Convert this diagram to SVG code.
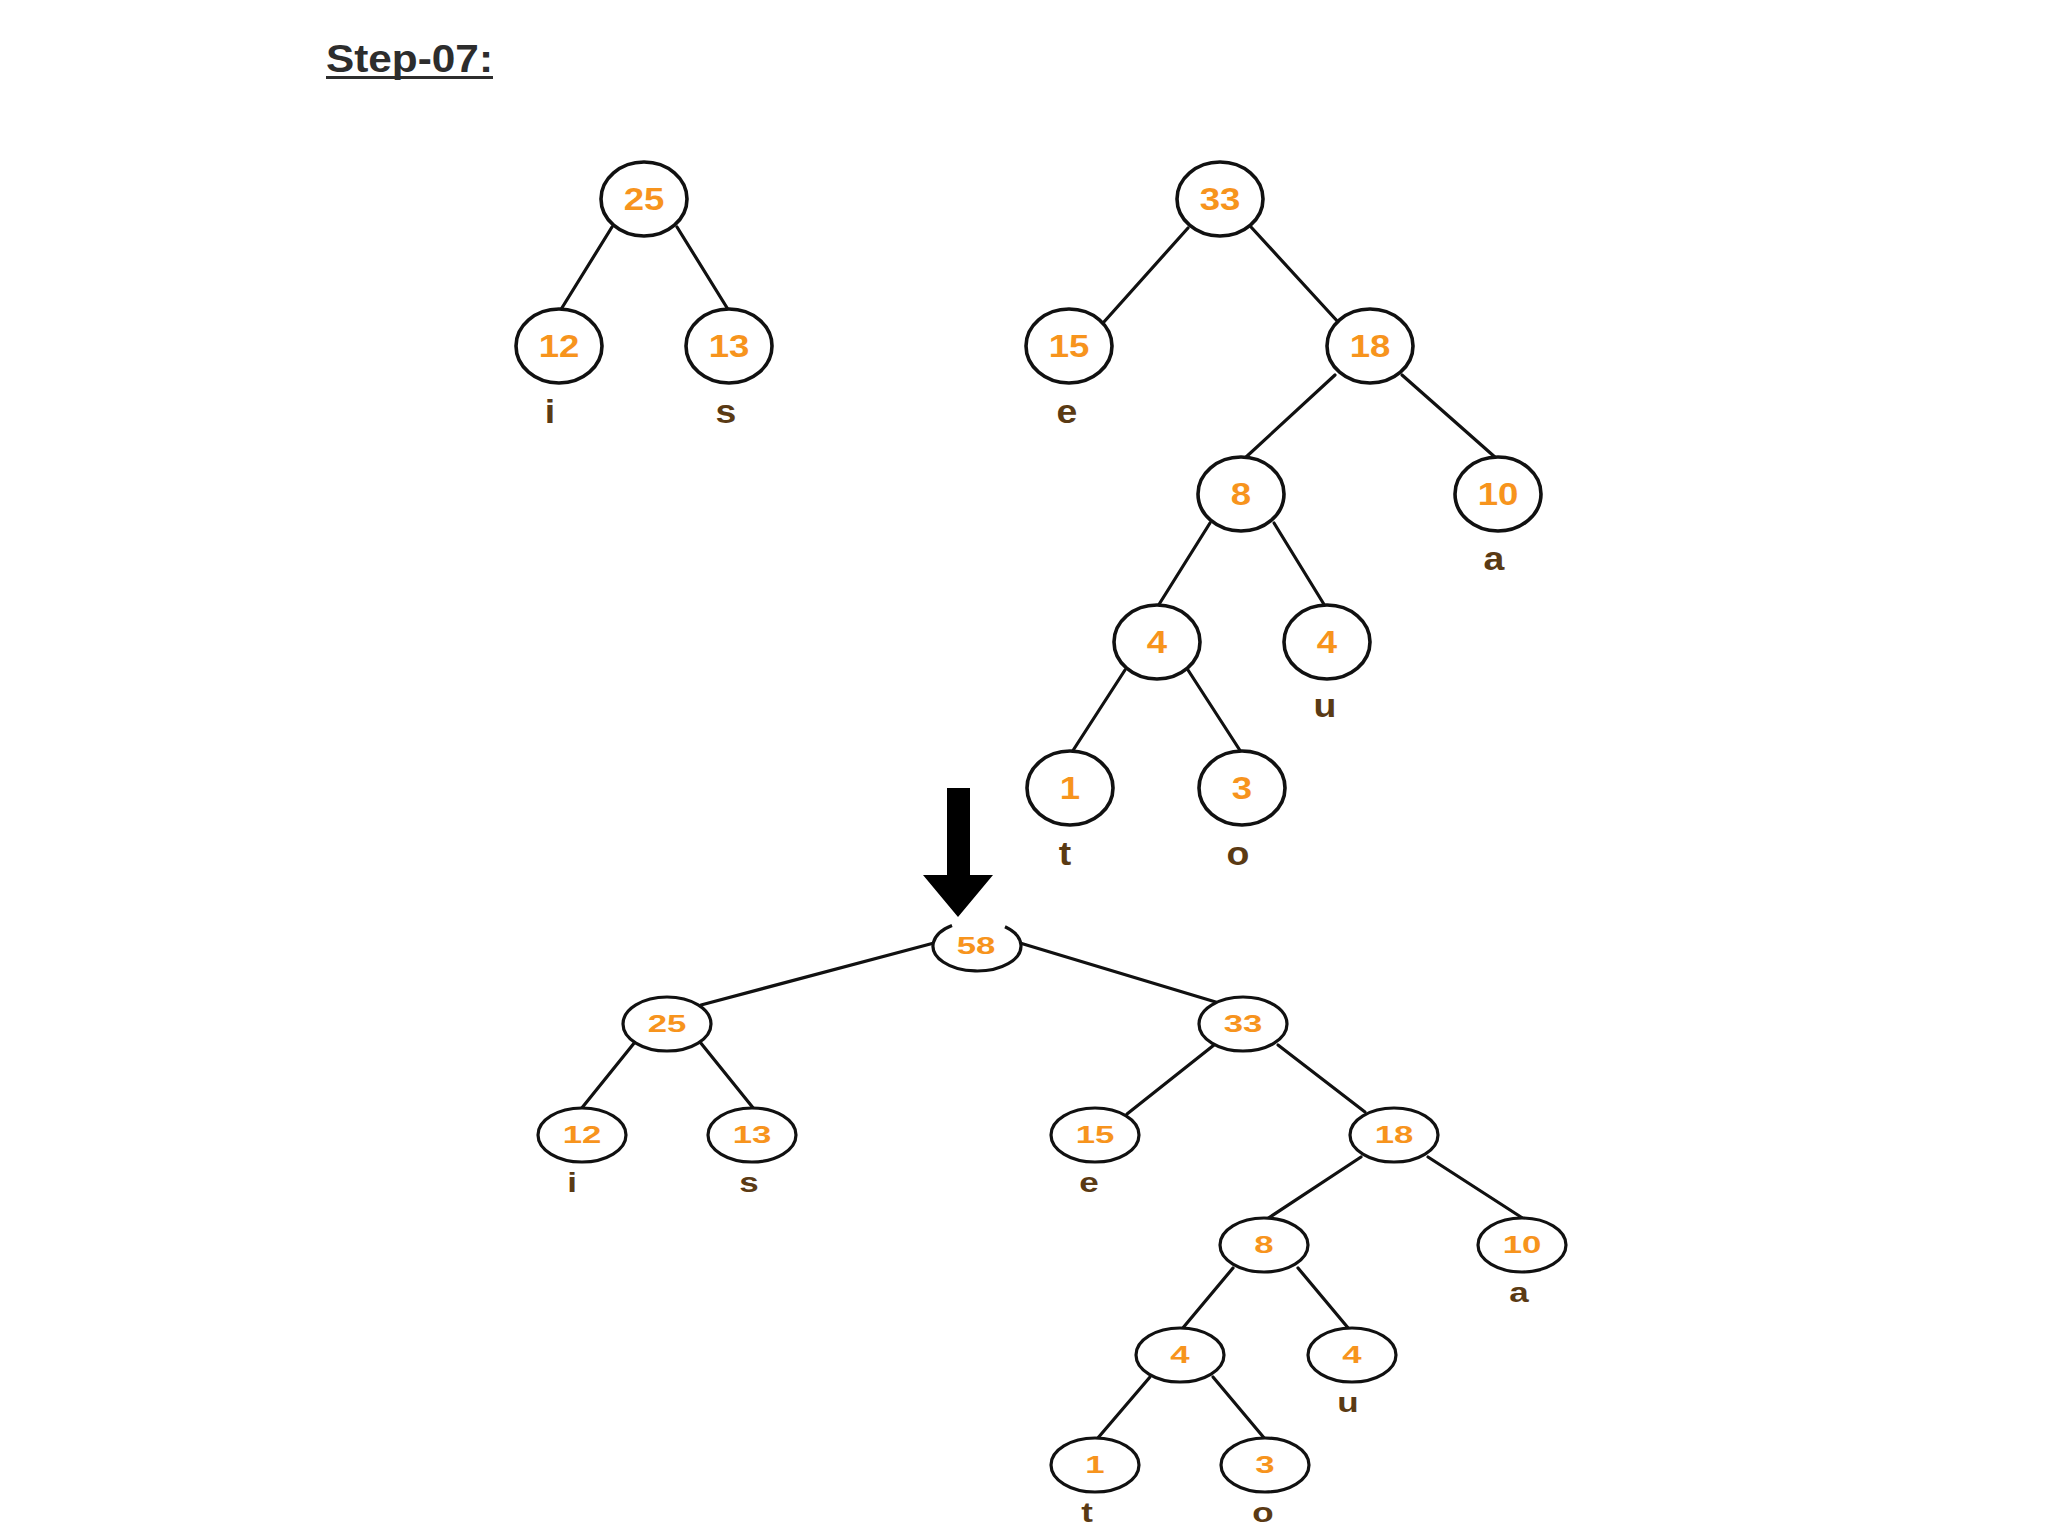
<svg xmlns="http://www.w3.org/2000/svg" width="2048" height="1536" viewBox="0 0 2048 1536">
<style>
  .nd { fill: #ffffff; stroke: #111111; stroke-width: 3.6; }
  .ndb { fill: #ffffff; stroke: #111111; stroke-width: 3.2; }
  .ed line { stroke: #111111; stroke-width: 3.2; stroke-linecap: round; }
  .num { font-family: "Liberation Sans", Arial, sans-serif; font-weight: bold; fill: #F7941D; text-anchor: middle; }
  .t { font-size: 31px; }
  .b { font-size: 24px; }
  .lbl { font-family: "Liberation Sans", Arial, sans-serif; font-weight: bold; fill: #5a3a14; text-anchor: middle; }
  .lt { font-size: 34px; }
  .lb { font-size: 28px; }
  .title { font-family: "Liberation Sans", Arial, sans-serif; font-weight: bold; font-size: 38px; fill: #2d2d2d; }
</style>
<rect width="2048" height="1536" fill="#ffffff"/>

<g id="title">
  <text class="title" x="326" y="72" textLength="167" lengthAdjust="spacingAndGlyphs">Step-07:</text>
  <rect x="326" y="76" width="167" height="3" fill="#2d2d2d"/>
</g>

<g id="connectors" class="ed">
  <line x1="612" y1="227" x2="560" y2="311"/>
  <line x1="677" y1="227" x2="729" y2="311"/>
  <line x1="1188" y1="228" x2="1103" y2="323"/>
  <line x1="1251" y1="227" x2="1339" y2="323"/>
  <line x1="1335" y1="375" x2="1245" y2="458"/>
  <line x1="1402" y1="375" x2="1496" y2="458"/>
  <line x1="1210" y1="523" x2="1158" y2="606"/>
  <line x1="1274" y1="523" x2="1325" y2="606"/>
  <line x1="1125" y1="670" x2="1072" y2="752"/>
  <line x1="1188" y1="670" x2="1241" y2="752"/>
  <line x1="934" y1="943" x2="701" y2="1005"/>
  <line x1="1020" y1="943" x2="1219" y2="1003"/>
  <line x1="635" y1="1042" x2="581" y2="1109"/>
  <line x1="700" y1="1042" x2="754" y2="1109"/>
  <line x1="1214" y1="1045" x2="1127" y2="1114"/>
  <line x1="1278" y1="1045" x2="1365" y2="1112"/>
  <line x1="1361" y1="1157" x2="1267" y2="1219"/>
  <line x1="1428" y1="1157" x2="1524" y2="1219"/>
  <line x1="1233" y1="1268" x2="1182" y2="1329"/>
  <line x1="1298" y1="1268" x2="1349" y2="1329"/>
  <line x1="1150" y1="1377" x2="1097" y2="1439"/>
  <line x1="1213" y1="1377" x2="1265" y2="1439"/>
</g>

<g id="arrow">
  <polygon points="947,788 970,788 970,875 993,875 958,917 923,875 947,875" fill="#000000"/>
</g>

<g id="t25"><ellipse class="nd" cx="644" cy="199" rx="43" ry="37"/><text class="num t" transform="translate(644,210) scale(1.18,1)">25</text></g>
<g id="t12"><ellipse class="nd" cx="559" cy="346" rx="43" ry="37"/><text class="num t" transform="translate(559,357) scale(1.18,1)">12</text><text class="lbl lt" transform="translate(550,423) scale(1.1,1)">i</text></g>
<g id="t13"><ellipse class="nd" cx="729" cy="346" rx="43" ry="37"/><text class="num t" transform="translate(729,357) scale(1.18,1)">13</text><text class="lbl lt" transform="translate(726,423) scale(1.1,1)">s</text></g>

<g id="t33"><ellipse class="nd" cx="1220" cy="199" rx="43" ry="37"/><text class="num t" transform="translate(1220,210) scale(1.18,1)">33</text></g>
<g id="t15"><ellipse class="nd" cx="1069" cy="346" rx="43" ry="37"/><text class="num t" transform="translate(1069,357) scale(1.18,1)">15</text><text class="lbl lt" transform="translate(1067,423) scale(1.1,1)">e</text></g>
<g id="t18"><ellipse class="nd" cx="1370" cy="346" rx="43" ry="37"/><text class="num t" transform="translate(1370,357) scale(1.18,1)">18</text></g>
<g id="t8"><ellipse class="nd" cx="1241" cy="494" rx="43" ry="37"/><text class="num t" transform="translate(1241,505) scale(1.18,1)">8</text></g>
<g id="t10"><ellipse class="nd" cx="1498" cy="494" rx="43" ry="37"/><text class="num t" transform="translate(1498,505) scale(1.18,1)">10</text><text class="lbl lt" transform="translate(1494,570) scale(1.1,1)">a</text></g>
<g id="t4"><ellipse class="nd" cx="1157" cy="642" rx="43" ry="37"/><text class="num t" transform="translate(1157,653) scale(1.18,1)">4</text></g>
<g id="t4u"><ellipse class="nd" cx="1327" cy="642" rx="43" ry="37"/><text class="num t" transform="translate(1327,653) scale(1.18,1)">4</text><text class="lbl lt" transform="translate(1325,717) scale(1.1,1)">u</text></g>
<g id="t1"><ellipse class="nd" cx="1070" cy="788" rx="43" ry="37"/><text class="num t" transform="translate(1070,799) scale(1.18,1)">1</text><text class="lbl lt" transform="translate(1065,865) scale(1.1,1)">t</text></g>
<g id="t3"><ellipse class="nd" cx="1242" cy="788" rx="43" ry="37"/><text class="num t" transform="translate(1242,799) scale(1.18,1)">3</text><text class="lbl lt" transform="translate(1238,865) scale(1.1,1)">o</text></g>

<g id="b58"><path class="ndb" d="M952,925.4 A44,25 0 1,0 1005,926.7"/><text class="num b" transform="translate(976,954) scale(1.45,1)">58</text></g>
<g id="b25"><ellipse class="ndb" cx="667" cy="1024" rx="44" ry="27"/><text class="num b" transform="translate(667,1032) scale(1.45,1)">25</text></g>
<g id="b33"><ellipse class="ndb" cx="1243" cy="1024" rx="44" ry="27"/><text class="num b" transform="translate(1243,1032) scale(1.45,1)">33</text></g>
<g id="b12"><ellipse class="ndb" cx="582" cy="1135" rx="44" ry="27"/><text class="num b" transform="translate(582,1143) scale(1.45,1)">12</text><text class="lbl lb" transform="translate(572,1192) scale(1.25,1)">i</text></g>
<g id="b13"><ellipse class="ndb" cx="752" cy="1135" rx="44" ry="27"/><text class="num b" transform="translate(752,1143) scale(1.45,1)">13</text><text class="lbl lb" transform="translate(749,1192) scale(1.25,1)">s</text></g>
<g id="b15"><ellipse class="ndb" cx="1095" cy="1135" rx="44" ry="27"/><text class="num b" transform="translate(1095,1143) scale(1.45,1)">15</text><text class="lbl lb" transform="translate(1089,1192) scale(1.25,1)">e</text></g>
<g id="b18"><ellipse class="ndb" cx="1394" cy="1135" rx="44" ry="27"/><text class="num b" transform="translate(1394,1143) scale(1.45,1)">18</text></g>
<g id="b8"><ellipse class="ndb" cx="1264" cy="1245" rx="44" ry="27"/><text class="num b" transform="translate(1264,1253) scale(1.45,1)">8</text></g>
<g id="b10"><ellipse class="ndb" cx="1522" cy="1245" rx="44" ry="27"/><text class="num b" transform="translate(1522,1253) scale(1.45,1)">10</text><text class="lbl lb" transform="translate(1519,1302) scale(1.25,1)">a</text></g>
<g id="b4"><ellipse class="ndb" cx="1180" cy="1355" rx="44" ry="27"/><text class="num b" transform="translate(1180,1363) scale(1.45,1)">4</text></g>
<g id="b4u"><ellipse class="ndb" cx="1352" cy="1355" rx="44" ry="27"/><text class="num b" transform="translate(1352,1363) scale(1.45,1)">4</text><text class="lbl lb" transform="translate(1348,1412) scale(1.25,1)">u</text></g>
<g id="b1"><ellipse class="ndb" cx="1095" cy="1465" rx="44" ry="27"/><text class="num b" transform="translate(1095,1473) scale(1.45,1)">1</text><text class="lbl lb" transform="translate(1087,1522) scale(1.25,1)">t</text></g>
<g id="b3"><ellipse class="ndb" cx="1265" cy="1465" rx="44" ry="27"/><text class="num b" transform="translate(1265,1473) scale(1.45,1)">3</text><text class="lbl lb" transform="translate(1263,1522) scale(1.25,1)">o</text></g>
</svg>
